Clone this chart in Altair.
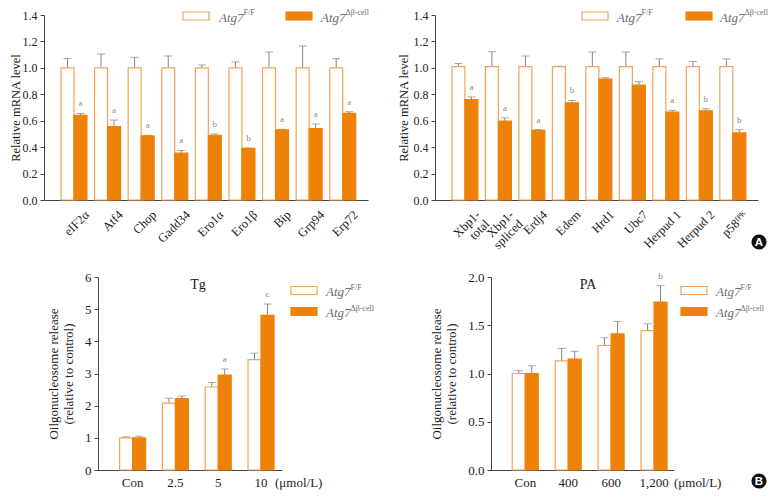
import altair as alt
import pandas as pd

GRP = ["F/F", "Δβ-cell"]
ORANGE = "#EE8208"
LIGHT = "#F2A35C"
ERR = "#858585"
SERIF = "Liberation Serif"

# Panel A (left): ER stress genes
genes_a = ["eIF2α", "Atf4", "Chop", "Gadd34", "Ero1α", "Ero1β", "Bip", "Grp94", "Erp72"]
ff_a = [1.0, 1.0, 1.0, 1.0, 1.0, 1.0, 1.0, 1.0, 1.0]
ff_a_err = [1.07, 1.105, 1.08, 1.09, 1.022, 1.045, 1.12, 1.165, 1.07]
ko_a = [0.64, 0.555, 0.485, 0.355, 0.49, 0.39, 0.53, 0.54, 0.655]
ko_a_err = [0.655, 0.605, 0.49, 0.375, 0.50, 0.393, 0.535, 0.575, 0.668]
sig_a = ["a", "a", "a", "a", "b", "b", "a", "a", "a"]

# Panel A (right): ERAD genes
genes_b = ["Xbp1-\ntotal", "Xbp1-\nspliced", "Erdj4", "Edem", "Hrd1", "Ubc7",
           "Herpud 1", "Herpud 2", "p58ᴵᴾᴷ"]
ff_b = [1.01, 1.01, 1.01, 1.01, 1.01, 1.01, 1.01, 1.01, 1.01]
ff_b_err = [1.033, 1.122, 1.09, 1.013, 1.12, 1.12, 1.068, 1.048, 1.068]
ko_b = [0.76, 0.598, 0.527, 0.736, 0.915, 0.869, 0.665, 0.675, 0.508]
ko_b_err = [0.78, 0.622, 0.533, 0.753, 0.925, 0.896, 0.678, 0.69, 0.532]
sig_b = ["a", "a", "a", "b", "", "", "a", "b", "b"]

# Panel B (left): Tg
dose_tg = ["Con", "2.5", "5", "10"]
ff_tg = [1.0, 2.08, 2.58, 3.43]
ff_tg_err = [1.03, 2.23, 2.72, 3.63]
ko_tg = [1.0, 2.22, 2.95, 4.81]
ko_tg_err = [1.05, 2.30, 3.14, 5.16]
sig_tg = ["", "", "a", "c"]

# Panel B (right): PA
dose_pa = ["Con", "400", "600", "1,200"]
ff_pa = [1.0, 1.13, 1.29, 1.445]
ff_pa_err = [1.03, 1.26, 1.37, 1.515]
ko_pa = [1.0, 1.15, 1.41, 1.74]
ko_pa_err = [1.08, 1.23, 1.54, 1.91]
sig_pa = ["", "", "", "b"]

one = pd.DataFrame({"k": [0]})


def make_df(cats, ff, ff_err, ko, ko_err, sig):
    rows = []
    for i, c in enumerate(cats):
        rows.append(dict(cat=c, grp=GRP[0], val=ff[i], err=ff_err[i], sig=""))
        rows.append(dict(cat=c, grp=GRP[1], val=ko[i], err=ko_err[i], sig=sig[i]))
    return pd.DataFrame(rows)


def rect(x1, x2, y1, y2, fill, stroke):
    return alt.Chart(one).mark_rect(fill=fill, stroke=stroke, strokeWidth=1.2).encode(
        x=alt.value(x1), x2=alt.value(x2), y=alt.value(y1), y2=alt.value(y2))


def txt(x, y, s, size, align="left", baseline="alphabetic", **kw):
    return alt.Chart(one).mark_text(text=s, fontSize=size, align=align, baseline=baseline, **kw).encode(
        x=alt.value(x), y=alt.value(y))


def legend_items(bx1, tx1, by1, bx2, tx2, by2):
    out = []
    for bx, tx, by, fill, sup in [(bx1, tx1, by1, "white", "F/F"), (bx2, tx2, by2, ORANGE, "Δβ-cell")]:
        out.append(rect(bx, bx + 26, by, by + 8, fill, LIGHT if fill == "white" else ORANGE))
        out.append(txt(tx, by + 9.5, "Atg7", 13, font=SERIF, fontStyle="italic", color="#6e6e6e"))
        out.append(txt(tx + 24.5, by + 3, sup, 8, font=SERIF, color="#6e6e6e"))
    return out


def panel(df, cats, w, h, ydom, yvals, yfmt, ytitle, tpad, pin, pout, palign, xaxis, ylab_size, deco):
    x = alt.X("cat:N", sort=cats, scale=alt.Scale(paddingInner=pin, paddingOuter=pout, align=palign),
              axis=xaxis)
    xo = alt.XOffset("grp:N", sort=GRP, scale=alt.Scale(domain=GRP, paddingInner=0, paddingOuter=0))
    yaxis = alt.Axis(values=yvals, format=yfmt, title=ytitle, tickSize=4, labelPadding=3,
                     labelFontSize=ylab_size, titleFontSize=13 if isinstance(ytitle, list) else 12.5,
                     titlePadding=tpad, titleLineHeight=15, grid=False)
    ysc = alt.Scale(domain=ydom, nice=False, zero=True)
    y_val = alt.Y("val:Q", scale=ysc, axis=yaxis)
    y_err = alt.Y("err:Q", scale=ysc, axis=yaxis)
    base = alt.Chart(df)
    bars = base.mark_bar(strokeWidth=1.2).encode(
        x=x, xOffset=xo, y=y_val,
        fill=alt.Fill("grp:N", scale=alt.Scale(domain=GRP, range=["white", ORANGE]), legend=None),
        stroke=alt.Stroke("grp:N", scale=alt.Scale(domain=GRP, range=[LIGHT, ORANGE]), legend=None),
    )
    rule = base.mark_rule(color=ERR, strokeWidth=1).encode(x=x, xOffset=xo, y=y_val, y2="err:Q")
    cap = base.mark_tick(color=ERR, thickness=1, size=8).encode(x=x, xOffset=xo, y=y_err)
    sig = base.mark_text(fontSize=9, color="#8a8a8a", font=SERIF, baseline="bottom", dy=-5).encode(
        x=x, xOffset=xo, y=y_err, text="sig:N")
    return alt.layer(rule, cap, bars, sig, *deco).properties(width=w, height=h)


top_xaxis = alt.Axis(title=None, ticks=False, labelAngle=-45, labelAlign="right", labelBaseline="top",
                     labelFontSize=12.5, labelPadding=8, labelOffset=9, labelLineHeight=13,
                     labelExpr="split(datum.label, '\\n')")
bot_xaxis = alt.Axis(title=None, ticks=False, labelAngle=0, labelFontSize=13, labelPadding=6)

TOP_H = 185
LY = -3  # legend top, relative to top plot area

AL = panel(make_df(genes_a, ff_a, ff_a_err, ko_a, ko_a_err, sig_a), genes_a, 324, TOP_H,
           [0, 1.4], [0, 0.2, 0.4, 0.6, 0.8, 1.0, 1.2, 1.4], ".1f", "Relative mRNA level", 0,
           0.226, 0.435, 0.58, top_xaxis, 12,
           legend_items(139, 175, LY, 242, 277, LY))

AR = panel(make_df(genes_b, ff_b, ff_b_err, ko_b, ko_b_err, sig_b), genes_b, 323, TOP_H,
           [0, 1.4], [0, 0.2, 0.4, 0.6, 0.8, 1.0, 1.2, 1.4], ".1f", "Relative mRNA level", 3,
           0.226, 0.435, 0.58, top_xaxis, 12,
           legend_items(147, 182, LY, 251, 285, LY) + [
               alt.Chart(one).mark_point(shape="circle", filled=True, color="#111111", size=230, opacity=1)
               .encode(x=alt.value(324), y=alt.value(227)),
               txt(324, 227.5, "A", 11.5, align="center", baseline="middle", font="Liberation Sans",
                   fontWeight="bold", color="white"),
           ])

ytitle_b = ["Oilgonucleosome release", "(relative to control)"]

BL = panel(make_df(dose_tg, ff_tg, ff_tg_err, ko_tg, ko_tg_err, sig_tg), dose_tg, 184, 193,
           [0, 6], [0, 1, 2, 3, 4, 5, 6], "d", ytitle_b, 9,
           0.393, 0.346, 0.73, bot_xaxis, 13,
           legend_items(193, 228, 9.5, 193, 228, 30.5) + [
               txt(100, 8, "Tg", 14, align="center", baseline="middle", font=SERIF, color="#222"),
               txt(177, 206, "(μmol/L)", 13, align="left", baseline="middle", font=SERIF, color="#222"),
           ])

BR = panel(make_df(dose_pa, ff_pa, ff_pa_err, ko_pa, ko_pa_err, sig_pa), dose_pa, 183, 193,
           [0, 2.0], [0, 0.5, 1.0, 1.5, 2.0], ".1f", ytitle_b, 9,
           0.393, 0.328, 0.755, bot_xaxis, 13,
           legend_items(190, 225, 9.5, 190, 225, 30.5) + [
               txt(97, 8, "PA", 14, align="center", baseline="middle", font=SERIF, color="#222"),
               txt(183, 206, "(μmol/L)", 13, align="left", baseline="middle", font=SERIF, color="#222"),
               alt.Chart(one).mark_point(shape="circle", filled=True, color="#111111", size=230, opacity=1)
               .encode(x=alt.value(268), y=alt.value(204)),
               txt(268, 204.5, "B", 11.5, align="center", baseline="middle", font="Liberation Sans",
                   fontWeight="bold", color="white"),
           ])


def spacer(w, h):
    return alt.Chart(one).mark_text(text="").encode(x=alt.value(0)).properties(width=w, height=h)


row1 = alt.hconcat(AL, AR, spacing=67, bounds="flush")
row2 = alt.hconcat(spacer(54, 193), BL, spacer(209, 193), BR, spacing=0, bounds="flush")

chart = alt.vconcat(row1, row2, spacing=18).properties(
    padding={"left": 0, "top": 0, "right": 0, "bottom": 0},
    background="white",
).configure_view(stroke="transparent").configure_axis(
    labelFont=SERIF, titleFont=SERIF, titleFontWeight="normal", labelColor="#222", titleColor="#222",
    domainColor="#444", tickColor="#444", grid=False,
)

chart.save("out.html", embed_options={"renderer": "svg", "actions": False})
